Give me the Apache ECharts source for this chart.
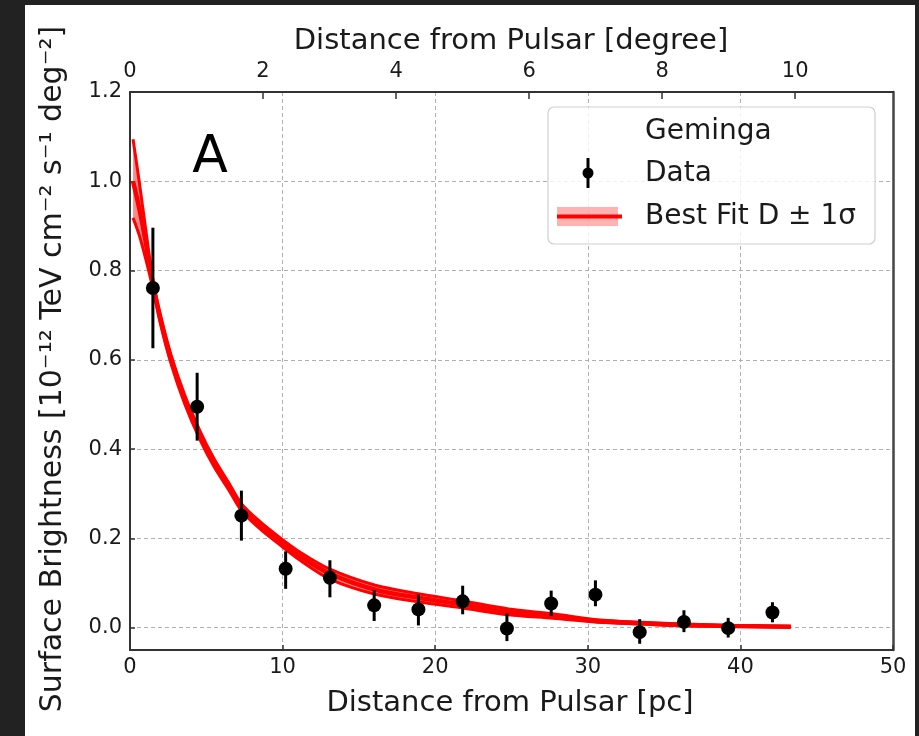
<!DOCTYPE html>
<html>
<head>
<meta charset="utf-8">
<script src="https://cdn.jsdelivr.net/npm/echarts@6/dist/echarts.min.js"></script>
<style>
  html, body { margin: 0; padding: 0; background: #222; }
  #paper { position: absolute; left: 25px; top: 5px; width: 890px; height: 731px; background: #fff; }
  #chart { position: absolute; left: 0; top: 0; width: 919px; height: 736px; }
</style>
</head>
<body>
<div id="paper"></div>
<div id="chart"></div>
<script>
// Geminga surface brightness profile
const pcDist = [1.5, 4.4, 7.3, 10.2, 13.1, 16.0, 18.9, 21.8, 24.7, 27.6, 30.5, 33.4, 36.3, 39.2, 42.1]
const brightness = [0.761, 0.495, 0.251, 0.132, 0.112, 0.050, 0.041, 0.059, -0.002, 0.054, 0.074, -0.010, 0.013, -0.001, 0.034]
const errTop = [0.896, 0.571, 0.307, 0.171, 0.151, 0.084, 0.074, 0.094, 0.032, 0.083, 0.106, 0.019, 0.039, 0.022, 0.057]
const errBottom = [0.626, 0.419, 0.195, 0.087, 0.068, 0.015, 0.005, 0.030, -0.030, 0.026, 0.048, -0.036, -0.010, -0.022, 0.012]

// best fit curve and +-1 sigma band
const fitX = [0.2, 0.6, 1.0, 1.5, 2.0, 2.7, 3.6, 4.6, 5.5, 6.5, 7.3, 8.5, 9.7, 11.15, 13.1, 16.07, 18.9, 21.8, 24.8, 27.7, 30.6, 33.5, 36.4, 39.25, 43.3]
const fitMid = [1.00, 0.94, 0.87, 0.77, 0.69, 0.60, 0.51, 0.43, 0.37, 0.315, 0.27, 0.23, 0.197, 0.160, 0.121, 0.085, 0.067, 0.052, 0.035, 0.026, 0.015, 0.010, 0.006, 0.004, 0.002]
const fitHigh = [1.094, 1.00, 0.90, 0.78, 0.70, 0.61, 0.52, 0.44, 0.379, 0.323, 0.278, 0.238, 0.205, 0.169, 0.131, 0.095, 0.076, 0.060, 0.042, 0.031, 0.018, 0.012, 0.008, 0.005, 0.003]
const fitLow = [0.918, 0.88, 0.83, 0.76, 0.68, 0.59, 0.50, 0.42, 0.361, 0.307, 0.262, 0.222, 0.189, 0.151, 0.109, 0.075, 0.058, 0.044, 0.029, 0.021, 0.012, 0.008, 0.004, 0.003, 0.001]

const pcTicks = [0, 10, 20, 30, 40, 50]
const degTicks = [0, 2, 4, 6, 8, 10]
const yTicks = [0.0, 0.2, 0.4, 0.6, 0.8, 1.0, 1.2]

const FONT = "DejaVu Sans"
const INK = "#1a1a1a"

const chart = echarts.init(document.getElementById("chart"), null, { renderer: "canvas" })

const midPts = fitX.map((x, i) => [x, fitMid[i]])
const dataPts = pcDist.map((x, i) => [x, brightness[i], errBottom[i], errTop[i]])

// band: one item, polygon between upper and lower curves
function renderBand(params, api) {
  const upper = fitX.map((x, i) => api.coord([x, fitHigh[i]]))
  const lower = fitX.map((x, i) => api.coord([x, fitLow[i]]))
  const poly = upper.concat(lower.slice().reverse())
  return {
    type: "group",
    children: [
      { type: "polygon", shape: { points: poly }, style: { fill: "rgba(255,0,0,0.45)" } },
      { type: "polyline", shape: { points: upper, smooth: 0.3 }, style: { stroke: "#ff0000", lineWidth: 3, fill: null } },
      { type: "polyline", shape: { points: lower, smooth: 0.3 }, style: { stroke: "#ff0000", lineWidth: 3, fill: null } }
    ]
  }
}

const legendText = (text, y) => ({
  type: "text", x: 645, y: y, z: 110,
  style: { text: text, verticalAlign: "middle", font: "28px 'DejaVu Sans'", fill: INK }
})

const option = {
  animation: false,
  backgroundColor: "transparent",
  grid: { left: 130, top: 92, right: 26, bottom: 86 },
  xAxis: [
    {
      type: "value",
      position: "bottom",
      min: 0,
      max: 50,
      interval: 10,
      axisLine: { show: true, onZero: false, lineStyle: { color: "#333", width: 2 } },
      axisTick: { show: true, inside: true, length: 5, lineStyle: { color: "#333", width: 1.5 } },
      axisLabel: {
        margin: 7, fontSize: 21, fontFamily: FONT, color: INK,
        formatter: (v) => (pcTicks.indexOf(v) >= 0 ? String(v) : "")
      },
      splitLine: { show: true, lineStyle: { color: "#b0b0b0", width: 1, type: [4, 3] } }
    },
    {
      type: "value",
      position: "top",
      min: 0,
      max: 11.47,
      interval: 2,
      axisLine: { show: true, onZero: false, lineStyle: { color: "#333", width: 2 } },
      axisTick: { show: true, inside: true, length: 7, lineStyle: { color: "#333", width: 1.5 } },
      axisLabel: {
        margin: 10, fontSize: 21, fontFamily: FONT, color: INK, showMaxLabel: false,
        formatter: (v) => (degTicks.indexOf(v) >= 0 ? String(v) : "")
      },
      splitLine: { show: false }
    }
  ],
  yAxis: [
    {
      type: "value",
      position: "left",
      min: -0.05,
      max: 1.2,
      minInterval: 0.2,
      maxInterval: 0.2,
      axisLine: { show: true, onZero: false, lineStyle: { color: "#333", width: 2 } },
      axisTick: { show: true, inside: true, length: 5, lineStyle: { color: "#333", width: 1.5 } },
      axisLabel: {
        margin: 8, fontSize: 21, fontFamily: FONT, color: INK, showMinLabel: false,
        formatter: (v) => {
          const hit = yTicks.find((t) => Math.abs(t - v) < 1e-6)
          return hit === undefined ? "" : hit.toFixed(1)
        }
      },
      splitLine: { show: true, lineStyle: { color: "#b0b0b0", width: 1, type: [4, 3] } }
    },
    {
      type: "value",
      position: "right",
      min: -0.05,
      max: 1.2,
      axisLine: { show: true, onZero: false, lineStyle: { color: "#444", width: 2.5 } },
      axisTick: { show: false },
      axisLabel: { show: false },
      splitLine: { show: false }
    }
  ],
  graphic: [
    {
      type: "text", x: 511, y: 41,
      style: { text: "Distance from Pulsar [degree]", align: "center", verticalAlign: "middle",
        font: "29px 'DejaVu Sans'", fill: INK }
    },
    {
      type: "text", x: 510, y: 703,
      style: { text: "Distance from Pulsar [pc]", align: "center", verticalAlign: "middle",
        font: "29px 'DejaVu Sans'", fill: INK }
    },
    {
      type: "text", x: 53, y: 369, rotation: Math.PI / 2,
      style: { text: "Surface Brightness [10\u207B\u00B9\u00B2 TeV cm\u207B\u00B2 s\u207B\u00B9 deg\u207B\u00B2]",
        align: "center", verticalAlign: "middle", font: "30px 'DejaVu Sans'", fill: INK }
    },
    {
      type: "text", x: 210, y: 158, z: 10,
      style: { text: "A", align: "center", verticalAlign: "middle", font: "52px 'DejaVu Sans'", fill: "#000" }
    },
    // legend
    { type: "rect", z: 100, shape: { x: 548, y: 107, width: 327, height: 137, r: 6 },
      style: { fill: "rgba(255,255,255,0.82)", stroke: "#cfcfcf", lineWidth: 1.2 } },
    legendText("Geminga", 132),
    { type: "line", z: 110, shape: { x1: 588, y1: 158, x2: 588, y2: 188 }, style: { stroke: "#000", lineWidth: 3 } },
    { type: "circle", z: 110, shape: { cx: 588, cy: 173, r: 5.5 }, style: { fill: "#000" } },
    legendText("Data", 174),
    { type: "rect", z: 110, shape: { x: 557, y: 207, width: 61, height: 19 }, style: { fill: "rgba(255,0,0,0.3)" } },
    { type: "line", z: 111, shape: { x1: 557, y1: 216.5, x2: 622, y2: 216.5 }, style: { stroke: "#ff0000", lineWidth: 4 } },
    legendText("Best Fit D \u00B1 1\u03C3", 217)
  ],
  series: [
    {
      name: "Best Fit band",
      type: "custom",
      xAxisIndex: 0, yAxisIndex: 0,
      data: [[fitX[0], fitMid[0]]],
      renderItem: renderBand,
      z: 3
    },
    {
      name: "Best Fit",
      type: "line",
      xAxisIndex: 0, yAxisIndex: 0,
      data: midPts,
      smooth: 0.3,
      showSymbol: false,
      lineStyle: { color: "#ff0000", width: 4.5 },
      z: 4
    },
    {
      name: "Data",
      type: "custom",
      xAxisIndex: 0, yAxisIndex: 0,
      data: dataPts,
      z: 6,
      renderItem: function (params, api) {
        const p = api.coord([api.value(0), api.value(1)])
        const lo = api.coord([api.value(0), api.value(2)])
        const hi = api.coord([api.value(0), api.value(3)])
        return {
          type: "group",
          children: [
            { type: "line", shape: { x1: lo[0], y1: lo[1], x2: hi[0], y2: hi[1] },
              style: { stroke: "#000", lineWidth: 3 } },
            { type: "circle", shape: { cx: p[0], cy: p[1], r: 7 }, style: { fill: "#000" } }
          ]
        }
      }
    }
  ]
}

chart.setOption(option)
</script>
</body>
</html>
